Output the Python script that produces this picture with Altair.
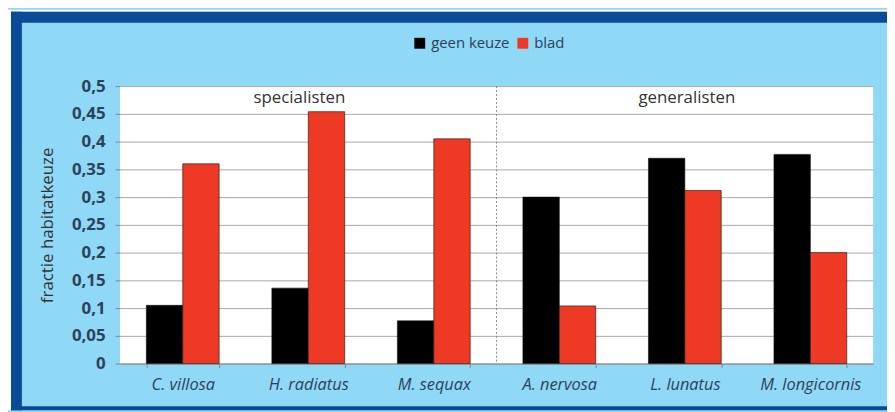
import altair as alt
import pandas as pd

species = ["C. villosa", "H. radiatus", "M. sequax", "A. nervosa", "L. lunatus", "M. longicornis"]
geen_keuze = [0.105, 0.136, 0.077, 0.300, 0.370, 0.377]
blad = [0.360, 0.454, 0.405, 0.104, 0.312, 0.200]
series = ["geen keuze", "blad"]
colors = ["#000000", "#ee3a24"]
groups = ["specialisten", "generalisten"]
group_anchor = ["H. radiatus", "L. lunatus"]

rows = []
for s, g, b in zip(species, geen_keuze, blad):
    rows.append({"soort": s, "reeks": series[0], "waarde": g})
    rows.append({"soort": s, "reeks": series[1], "waarde": b})
df = pd.DataFrame(rows)
one = pd.DataFrame({"a": [0]})

W, H = 760, 280
PL, PT = 113, 77
TOTW, TOTH = 887, 404

FONT = "Open Sans"
LBL = "#2c425a"

xenc = alt.X("soort:N", sort=species, title=None,
             scale=alt.Scale(paddingInner=0.42, paddingOuter=0.21),
             axis=alt.Axis(labelFontStyle="italic", labelFontSize=16.5, labelColor=LBL,
                           labelFont=FONT, labelAngle=0, tickBand="extent", tickSize=4,
                           tickColor="#888888", domainColor="#888888", labelPadding=9,
                           grid=False))

bars = alt.Chart(df).mark_bar(stroke="#111111", strokeWidth=0.6).encode(
    x=xenc,
    xOffset=alt.XOffset("reeks:N", sort=series),
    y=alt.Y("waarde:Q", title="fractie  habitatkeuze",
            scale=alt.Scale(domain=[0, 0.5], nice=False),
            axis=alt.Axis(values=[i * 0.05 for i in range(11)], format=".2~f",
                          labelExpr="replace(datum.label, '.', ',')",
                          labelFontSize=17, labelColor=LBL, labelFont=FONT,
                          labelFontWeight="bold", tickSize=5, tickColor="#888888",
                          domain=False, gridColor="#a8a8a8", gridWidth=1,
                          titleFont=FONT, titleFontSize=17, titleFontWeight="normal",
                          titleColor="#333333", titlePadding=15, labelPadding=10)),
    color=alt.Color("reeks:N", sort=series,
                    scale=alt.Scale(domain=series, range=colors),
                    legend=alt.Legend(title=None, orient="none", legendX=295, legendY=-51,
                                      direction="horizontal", symbolType="square",
                                      symbolSize=120, symbolStrokeWidth=0,
                                      labelFontSize=15, labelFont=FONT, labelColor=LBL,
                                      labelOffset=4, columnPadding=5)),
)

sep = alt.Chart(one).mark_rule(color="#888888", strokeDash=[2, 2], strokeWidth=1).encode(
    x=alt.value(W / 2), y=alt.value(0), y2=alt.value(H))

def glabel(anchor, text, dx):
    return alt.Chart(pd.DataFrame({"soort": [anchor], "label": [text]})).mark_text(
        font=FONT, fontSize=17, color="#333333", baseline="middle", dx=dx).encode(
        x=alt.X("soort:N", sort=species), y=alt.value(12), text="label:N")

glabels = [glabel(group_anchor[0], groups[0], -9), glabel(group_anchor[1], groups[1], 2)]

frame_blue = "#0b4a97"
def rect(x1, x2, y1, y2, color):
    return alt.Chart(one).mark_rect(color=color).encode(
        x=alt.value(x1), x2=alt.value(x2), y=alt.value(y1), y2=alt.value(y2))

frame = [
    rect(-PL, TOTW - PL, -PT, -PT + 2, "#ffffff"),
    rect(-PL, -PL + 3, -PT, TOTH - PT, "#ffffff"),
    rect(-PL + 3, TOTW - PL, -PT + 2, -PT + 13, frame_blue),
    rect(-PL + 3, -PL + 14, -PT + 2, TOTH - PT, frame_blue),
    rect(-PL + 3, TOTW - PL, TOTH - PT - 4, TOTH - PT, frame_blue),
]

chart = alt.layer(bars, sep, *glabels, *frame).properties(
    width=W, height=H,
    autosize=alt.AutoSizeParams(type="none"),
    padding={"left": PL, "top": PT, "right": TOTW - PL - W, "bottom": TOTH - PT - H},
    background="#8fd8f6",
).configure_view(fill="#ffffff", stroke=None)

chart.save("out.html", embed_options={"renderer": "svg", "actions": False})
